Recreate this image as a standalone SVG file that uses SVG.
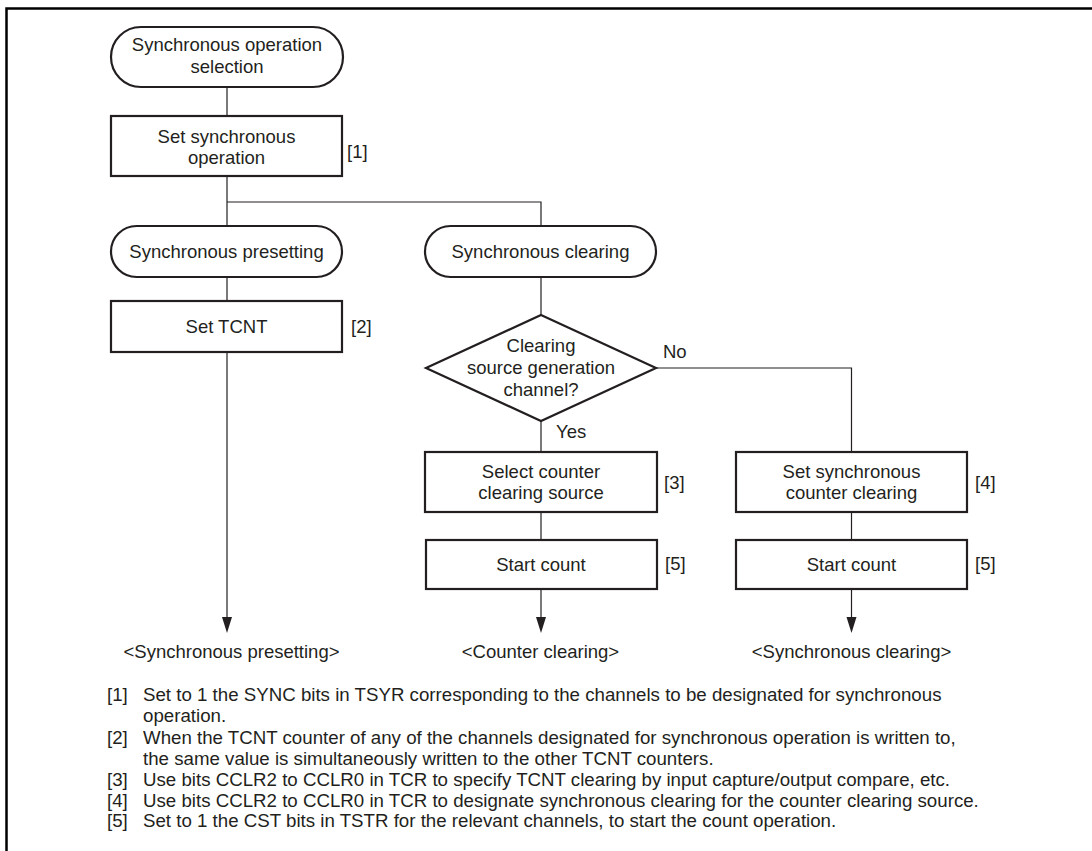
<svg xmlns="http://www.w3.org/2000/svg" width="1092" height="851" viewBox="0 0 1092 851">
<defs>
<style>
.t{font-family:"Liberation Sans",Arial,sans-serif;font-size:18.5px;fill:#231f20;text-anchor:middle}
.l{font-family:"Liberation Sans",Arial,sans-serif;font-size:18.5px;fill:#231f20}
.f{font-family:"Liberation Sans",Arial,sans-serif;font-size:18.7px;fill:#231f20}
.box{fill:#fff;stroke:#231f20;stroke-width:2.2}
.ln{fill:none;stroke:#231f20;stroke-width:1.2}
.ah{fill:#231f20}
</style>
</defs>
<rect width="1092" height="851" fill="#fff"/>
<path d="M6.5,851 V8.5 H1092" fill="none" stroke="#000" stroke-width="2.5"/>

<g id="connectors">
<path class="ln" d="M227,87 V116"/>
<path class="ln" d="M227,176 V226"/>
<path class="ln" d="M227,202 H541 V226"/>
<path class="ln" d="M227,277 V301"/>
<path class="ln" d="M227,352 V618"/>
<polygon class="ah" points="222,617 232,617 227,633"/>
<path class="ln" d="M541,277 V315"/>
<path class="ln" d="M541,421 V452"/>
<path class="ln" d="M656,368 H851.5 V452"/>
<path class="ln" d="M541,512 V540"/>
<path class="ln" d="M851.5,512 V540"/>
<path class="ln" d="M541,589 V618"/>
<polygon class="ah" points="536,617 546,617 541,633"/>
<path class="ln" d="M851.5,589 V618"/>
<polygon class="ah" points="846.5,617 856.5,617 851.5,633"/>
<text class="l" x="663" y="358">No</text>
<text class="l" x="556" y="438">Yes</text>
</g>

<g id="start">
<rect class="box" x="111" y="27" width="232" height="60" rx="30" ry="30"/>
<text class="t" x="227" y="50.5">Synchronous operation</text>
<text class="t" x="227" y="73">selection</text>
</g>

<g id="set-sync-op">
<rect class="box" x="111" y="116" width="231" height="60"/>
<text class="t" x="226.5" y="143">Set synchronous</text>
<text class="t" x="226.5" y="163.5">operation</text>
<text class="l" x="347" y="158">[1]</text>
</g>

<g id="sync-presetting">
<rect class="box" x="111" y="226" width="231" height="51" rx="25.5" ry="25.5"/>
<text class="t" x="226.5" y="257.5">Synchronous presetting</text>
</g>

<g id="sync-clearing">
<rect class="box" x="425" y="226" width="231" height="51" rx="25.5" ry="25.5"/>
<text class="t" x="540.5" y="257.5">Synchronous clearing</text>
</g>

<g id="set-tcnt">
<rect class="box" x="111" y="301" width="231" height="51"/>
<text class="t" x="226.5" y="333">Set TCNT</text>
<text class="l" x="351" y="333">[2]</text>
</g>

<g id="decision">
<polygon class="box" points="541,315 656,368 541,421 426,368"/>
<text class="t" x="541" y="352">Clearing</text>
<text class="t" x="541" y="374">source generation</text>
<text class="t" x="541" y="396">channel?</text>
</g>

<g id="select-source">
<rect class="box" x="425" y="452" width="232" height="60"/>
<text class="t" x="541" y="477.5">Select counter</text>
<text class="t" x="541" y="498.5">clearing source</text>
<text class="l" x="664" y="488.5">[3]</text>
</g>

<g id="set-sync-clear">
<rect class="box" x="736" y="452" width="231" height="60"/>
<text class="t" x="851.5" y="477.5">Set synchronous</text>
<text class="t" x="851.5" y="498.5">counter clearing</text>
<text class="l" x="975" y="488.5">[4]</text>
</g>

<g id="start-count-1">
<rect class="box" x="426" y="540" width="231" height="49"/>
<text class="t" x="541" y="571">Start count</text>
<text class="l" x="665" y="570">[5]</text>
</g>

<g id="start-count-2">
<rect class="box" x="736" y="540" width="231" height="49"/>
<text class="t" x="851.5" y="571">Start count</text>
<text class="l" x="975" y="570">[5]</text>
</g>

<g id="end-presetting">
<text class="t" x="231.5" y="658">&lt;Synchronous presetting&gt;</text>
</g>
<g id="end-counter-clearing">
<text class="t" x="540.5" y="658">&lt;Counter clearing&gt;</text>
</g>
<g id="end-sync-clearing">
<text class="t" x="851.5" y="658">&lt;Synchronous clearing&gt;</text>
</g>

<g id="notes">
<text class="f" x="107" y="700.5">[1]</text>
<text class="f" x="143" y="700.5">Set to 1 the SYNC bits in TSYR corresponding to the channels to be designated for synchronous</text>
<text class="f" x="143" y="721.5">operation.</text>
<text class="f" x="107" y="743.5">[2]</text>
<text class="f" x="143" y="743.5">When the TCNT counter of any of the channels designated for synchronous operation is written to,</text>
<text class="f" x="143" y="764.5">the same value is simultaneously written to the other TCNT counters.</text>
<text class="f" x="107" y="785.5">[3]</text>
<text class="f" x="143" y="785.5">Use bits CCLR2 to CCLR0 in TCR to specify TCNT clearing by input capture/output compare, etc.</text>
<text class="f" x="107" y="806.5">[4]</text>
<text class="f" x="143" y="806.5">Use bits CCLR2 to CCLR0 in TCR to designate synchronous clearing for the counter clearing source.</text>
<text class="f" x="107" y="827">[5]</text>
<text class="f" x="143" y="827">Set to 1 the CST bits in TSTR for the relevant channels, to start the count operation.</text>
</g>
</svg>
